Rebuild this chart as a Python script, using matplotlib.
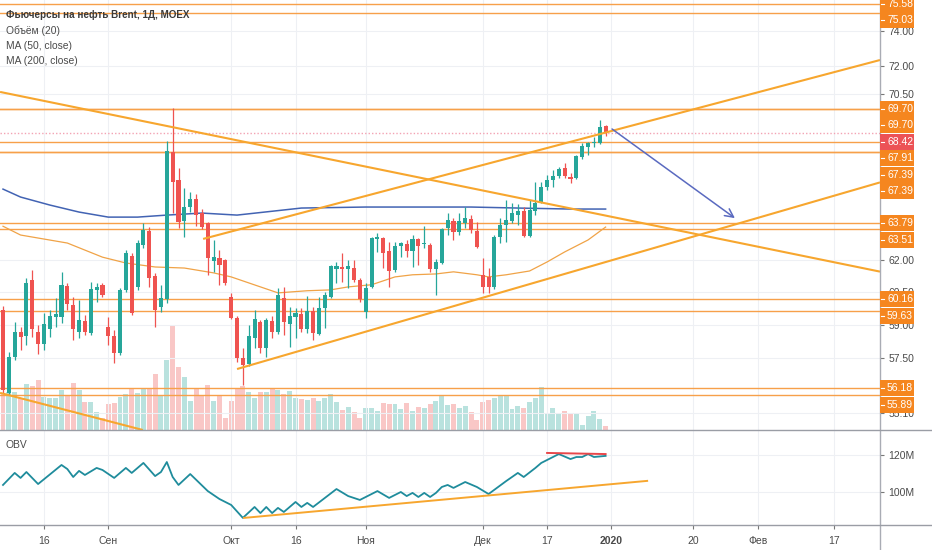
import matplotlib
matplotlib.use("Agg")
import matplotlib.pyplot as plt
from matplotlib.patches import Rectangle
from matplotlib.lines import Line2D
from matplotlib.ticker import NullLocator, NullFormatter

plt.rcParams["font.family"] = ["Liberation Sans", "DejaVu Sans"]

# daily candles, bar index 0 = 7 Aug 2019 ... 103 = 31 Dec 2019
opens = [59.67, 55.98, 57.55, 58.67, 58.49, 61.07, 58.67, 58.13, 58.80, 59.35,
         59.35, 60.79, 59.90, 58.67, 59.16, 58.62, 60.60, 60.84, 58.89, 58.49,
         57.73, 60.60, 62.20, 60.74, 62.73, 63.41, 61.26, 59.81, 60.18, 67.41,
         65.96, 63.90, 64.60, 65.00, 64.30, 63.80, 61.96, 62.11, 62.01, 60.27,
         59.30, 57.51, 57.24, 58.40, 59.12, 57.95, 59.16, 58.67, 60.23, 59.03,
         59.35, 59.48, 58.80, 59.62, 58.58, 59.76, 60.27, 61.59, 61.68, 61.59,
         61.63, 61.07, 59.58, 60.74, 63.02, 63.07, 62.44, 61.54, 62.68, 62.78,
         62.44, 63.02, 62.78, 62.73, 61.59, 61.87, 63.56, 63.90, 63.37, 63.80,
         64.00, 63.41, 61.30, 61.21, 60.74, 63.12, 63.70, 63.90, 64.20, 64.40,
         63.17, 64.40, 64.85, 65.60, 65.96, 66.16, 66.57, 66.11, 66.06, 67.15,
         67.67, 67.87, 67.87, 68.77]
highs = [59.85, 57.77, 59.12, 58.89, 61.16, 61.54, 58.98, 59.53, 59.67, 60.23,
         61.45, 60.93, 60.27, 60.13, 59.44, 60.98, 60.93, 60.93, 59.35, 58.76,
         60.70, 62.49, 62.34, 62.98, 63.80, 63.61, 61.40, 60.84, 67.98, 69.73,
         66.57, 65.55, 65.35, 65.25, 64.50, 63.85, 62.98, 62.49, 62.06, 60.46,
         59.39, 57.95, 58.98, 59.67, 59.21, 59.30, 59.39, 60.70, 60.74, 59.81,
         59.76, 59.76, 60.32, 59.81, 60.27, 60.51, 61.77, 61.92, 62.34, 62.01,
         62.01, 61.16, 60.93, 63.12, 63.31, 63.12, 62.88, 62.88, 62.88, 62.98,
         63.22, 63.07, 63.65, 62.83, 62.06, 63.56, 64.30, 64.05, 64.30, 64.60,
         64.20, 63.85, 62.11, 61.63, 63.22, 64.05, 64.95, 64.80, 64.75, 64.60,
         64.95, 65.86, 65.86, 66.21, 66.47, 66.62, 66.83, 66.32, 67.25, 67.87,
         67.93, 68.19, 69.09, 68.82]
lows = [55.98, 55.89, 57.42, 57.86, 58.08, 58.44, 57.68, 57.86, 58.44, 58.89,
        59.07, 59.67, 58.31, 58.40, 58.53, 58.53, 60.04, 60.27, 58.08, 57.29,
        57.64, 60.51, 59.44, 60.60, 62.59, 60.74, 58.89, 59.58, 59.99, 64.30,
        63.56, 63.12, 64.35, 63.65, 63.51, 61.30, 61.45, 60.84, 60.84, 59.26,
        57.33, 56.32, 57.16, 57.95, 57.73, 57.55, 58.40, 58.58, 58.53, 58.00,
        58.40, 58.67, 58.62, 58.31, 58.53, 58.85, 60.23, 60.93, 60.98, 60.70,
        60.98, 60.04, 59.30, 60.70, 62.40, 61.63, 60.74, 61.45, 62.15, 62.15,
        61.68, 61.77, 62.59, 61.45, 60.37, 61.82, 63.22, 62.98, 63.22, 63.56,
        63.31, 62.59, 60.46, 60.46, 60.65, 62.83, 62.88, 63.80, 63.70, 63.12,
        63.12, 64.20, 64.80, 65.45, 65.60, 66.06, 66.06, 65.81, 66.01, 67.04,
        67.25, 67.67, 67.82, 68.24]
closes = [56.11, 57.55, 58.67, 58.44, 60.93, 58.80, 58.13, 59.03, 59.39, 59.48,
          60.84, 59.95, 58.80, 59.21, 58.67, 60.65, 60.74, 60.37, 58.49, 57.73,
          60.60, 62.34, 59.53, 62.83, 63.46, 61.16, 59.67, 60.23, 67.46, 65.86,
          63.85, 64.60, 65.00, 64.20, 63.61, 62.11, 62.15, 61.77, 60.93, 59.30,
          57.51, 57.20, 58.49, 59.26, 57.95, 59.21, 58.67, 60.37, 59.12, 59.39,
          59.53, 58.80, 59.62, 58.62, 59.76, 60.37, 61.73, 61.73, 61.59, 61.73,
          61.07, 60.18, 60.70, 63.07, 63.12, 62.34, 61.49, 62.68, 62.83, 62.44,
          63.02, 62.68, 62.83, 61.59, 61.92, 63.51, 63.95, 63.37, 63.90, 64.05,
          63.46, 62.63, 60.74, 60.74, 63.12, 63.70, 63.95, 64.30, 64.40, 63.17,
          64.45, 64.80, 65.60, 65.96, 66.16, 66.52, 66.16, 66.01, 67.20, 67.72,
          67.87, 67.93, 68.72, 68.42]
# volume, thousand contracts (relative)
volumes = [37, 38, 38, 32, 46, 44, 50, 33, 32, 32,
           40, 34, 47, 40, 28, 28, 18, 12, 26, 27,
           33, 36, 41, 37, 41, 41, 56, 34, 70, 105,
           63, 53, 29, 41, 35, 45, 29, 34, 12, 29,
           41, 44, 38, 32, 38, 38, 41, 40, 36, 39,
           32, 31, 30, 32, 29, 32, 36, 28, 20, 23,
           18, 12, 22, 22, 19, 27, 26, 26, 21, 27,
           19, 23, 22, 26, 29, 35, 25, 26, 22, 24,
           18, 10, 28, 30, 32, 35, 35, 21, 24, 22,
           28, 32, 43, 16, 22, 16, 19, 17, 17, 5,
           14, 19, 11, 4]

ma50_idx = [0, 3, 11, 17, 21, 26, 31, 36, 39, 44, 47, 52, 56, 59, 63, 67, 70,
            74, 77, 81, 83, 86, 90, 93, 96, 100, 103]
ma50_vals = [63.65, 63.22, 62.83, 62.15, 61.87, 61.68, 61.63, 61.40, 61.21, 60.74,
             60.46, 60.56, 60.60, 60.74, 60.84, 61.21, 61.31, 61.35, 61.45, 61.31,
             61.21, 61.31, 61.49, 61.92, 62.40, 62.98, 63.61]
ma200_idx = [0, 3, 8, 13, 18, 23, 28, 34, 40, 51, 62, 71, 80, 88, 97, 103]
ma200_vals = [65.50, 65.10, 64.70, 64.35, 64.10, 64.10, 64.20, 64.30, 64.20, 64.55,
              64.60, 64.60, 64.60, 64.55, 64.50, 64.50]

obv_idx = [0, 2, 3, 4, 6, 10, 11, 12, 13, 14, 16, 17, 19, 21, 22, 24, 26, 27, 28,
           29, 30, 32, 35, 37, 39, 41, 43, 44, 45, 46, 47, 48, 50, 51, 52, 53, 57,
           59, 61, 64, 66, 68, 69, 70, 71, 72, 73, 74, 75, 76, 77, 79, 81, 83, 86,
           88, 89, 91, 92, 95, 97, 98, 99, 100, 101, 103]
obv_vals = [103.8, 110.3, 107.6, 110.8, 104.3, 114.6, 112.4, 108.1, 111.4, 109.2,
            113.0, 111.9, 107.6, 113.0, 110.3, 115.7, 108.6, 110.8, 116.2, 108.1,
            103.8, 109.7, 100.5, 96.2, 93.0, 86.0, 91.9, 88.6, 91.9, 88.6, 91.4,
            89.2, 94.6, 91.9, 94.1, 91.9, 101.6, 97.8, 95.7, 100.5, 96.8, 100.0,
            97.8, 99.5, 97.3, 99.5, 97.3, 99.5, 102.7, 103.8, 102.2, 105.4, 102.7,
            98.9, 105.9, 110.3, 108.1, 113.0, 115.7, 120.5, 117.8, 118.9, 118.9,
            120.5, 118.9, 119.5]

level_prices = [75.58, 75.03, 69.70, 69.70, 67.91, 67.39, 67.39, 63.79, 63.51,
                60.16, 59.63, 56.18, 55.89]
last_price = 68.42

# drawn trend lines: start index, start price, end index, end price
trend_x0 = [-0.5, 34.2, 40.0, -0.5]
trend_p0 = [70.60, 63.03, 57.01, 55.97]
trend_x1 = [149.9, 149.9, 149.9, 23.9]
trend_p1 = [61.46, 72.36, 65.84, 54.39]
arrow_from = (104.1, 68.61)
arrow_to = (125.1, 64.05)
obv_trend_x = [41.2, 110.1]
obv_trend_v = [86.0, 106.0]
obv_top_x = [93, 103]
obv_top_v = [121.1, 120.5]

price_ticks = [74.0, 72.0, 70.5, 62.0, 60.5, 59.0, 57.5, 55.1]
obv_ticks = [100, 120]
date_idx = [7, 18, 39, 50, 62, 82, 93, 104, 118, 129, 142]
date_lbl = ["16", "Сен", "Окт", "16", "Ноя", "Дек", "17", "2020", "20", "Фев", "17"]

UP = "#26a69a"
DOWN = "#ef5350"
ORANGE = "#f5861f"
LINE_OR = "#f7a04a"
TREND_OR = "#f7a62e"
GRID = "#eef0f4"
TXT = "#4a4a4a"

W, H = 932, 550


def rect(x0, y0, x1, y1):
    return [x0 / W, 1 - y1 / H, (x1 - x0) / W, (y1 - y0) / H]


fig = plt.figure(figsize=(W / 100, H / 100), dpi=100)
ax = fig.add_axes(rect(0, 0, 880, 430))
axo = fig.add_axes(rect(0, 430, 880, 525), sharex=ax)
axv = ax.twinx()
ax.set_zorder(axv.get_zorder() + 1)
ax.patch.set_visible(False)

ax.set_xlim(-0.513, 149.9)
ax.set_yscale("log")
ax.set_ylim(54.39, 75.79)
axv.set_ylim(0, 430)
axo.set_ylim(82.16, 133.5)

# volume
for i, v in enumerate(volumes):
    c = UP if closes[i] >= opens[i] else DOWN
    axv.bar(i, v, width=0.85, color=c, alpha=0.32, linewidth=0)
axv.set_yticks([])
for s in axv.spines.values():
    s.set_visible(False)

# candles
for i in range(len(opens)):
    o, h, l, c = opens[i], highs[i], lows[i], closes[i]
    col = UP if c >= o else DOWN
    ax.vlines(i, l, h, color=col, lw=0.9, zorder=5)
    lo = min(o, c)
    hgt = max(abs(c - o), 0.04)
    ax.bar(i, hgt, bottom=lo, width=0.7, color=col, linewidth=0, zorder=6)

ax.plot(ma50_idx, ma50_vals, color="#f0a347", lw=0.9, zorder=4)
ax.plot(ma200_idx, ma200_vals, color="#4263b3", lw=1.1, zorder=4)

for p in level_prices:
    ax.axhline(p, color=LINE_OR, lw=1.0, zorder=3)
ax.axhline(last_price, color="#f3a3b3", lw=1.0, ls=(0, (1, 1.5)), zorder=3)

for k in range(len(trend_x0)):
    ax.plot([trend_x0[k], trend_x1[k]], [trend_p0[k], trend_p1[k]],
            color=TREND_OR, lw=1.5, zorder=7, solid_capstyle="butt")
ax.annotate("", xy=arrow_to, xytext=arrow_from, zorder=8,
            arrowprops=dict(arrowstyle="->,head_length=0.6,head_width=0.3",
                            color="#5a6ac0", lw=1.1, shrinkA=0, shrinkB=0))

# price axis
ax.yaxis.tick_right()
ax.set_yticks(price_ticks)
ax.set_yticklabels([f"{p:.2f}" for p in price_ticks])
ax.yaxis.set_minor_locator(NullLocator())
ax.yaxis.set_minor_formatter(NullFormatter())
ax.tick_params(axis="y", direction="out", length=3, width=0.8, color="#777777",
               labelsize=7.5, labelcolor=TXT, pad=3)
ax.tick_params(axis="x", bottom=False, labelbottom=False)
ax.set_xticks(date_idx)
ax.grid(True, color=GRID, lw=0.8)
ax.set_axisbelow(True)
for s in ax.spines.values():
    s.set_visible(False)

# OBV
axo.plot(obv_idx, obv_vals, color="#1f8c9c", lw=1.3, zorder=4)
axo.plot(obv_trend_x, obv_trend_v, color=TREND_OR, lw=1.4, zorder=5)
axo.plot(obv_top_x, obv_top_v, color="#e8474a", lw=1.4, zorder=5)
axo.yaxis.tick_right()
axo.set_yticks(obv_ticks)
axo.set_yticklabels([f"{v}M" for v in obv_ticks])
axo.tick_params(axis="y", direction="out", length=3, width=0.8, color="#777777",
                labelsize=7.5, labelcolor=TXT, pad=3)
axo.set_xticks(date_idx)
axo.set_xticklabels(date_lbl)
axo.tick_params(axis="x", direction="out", length=3, width=0.8, color="#777777",
                labelsize=7.5, labelcolor=TXT, pad=5)
for t in axo.get_xticklabels():
    if t.get_text() == "2020":
        t.set_fontweight("bold")
axo.grid(True, color=GRID, lw=0.8)
axo.set_axisbelow(True)
for s in axo.spines.values():
    s.set_visible(False)

# panel separators and price scale border
fig.add_artist(Line2D([880 / W, 880 / W], [0, 1], color="#a9acb4", lw=1.0))
for yy in (430, 525):
    fig.add_artist(Line2D([0, 1], [1 - yy / H, 1 - yy / H], color="#9a9da5", lw=1.0))

# legend texts
fig.text(6 / W, 1 - 15 / H, "Фьючерсы на нефть Brent, 1Д, MOEX", fontsize=7.1,
         fontweight="bold", color="#3a3a3a", va="center")
for yy, s in ((31, "Объём (20)"), (46, "MA (50, close)"), (61, "MA (200, close)")):
    fig.text(6 / W, 1 - yy / H, s, fontsize=7.4, color=TXT, va="center")
fig.text(6 / W, 1 - 445 / H, "OBV", fontsize=7.4, color=TXT, va="center")

# price labels on the scale, stacked so they do not overlap
tags = [(p, ORANGE) for p in level_prices] + [(last_price, "#ec5256")]
pos = []
for p, col in tags:
    ypx = H - ax.transData.transform((0, p))[1]
    pos.append([ypx, p, col])
pos.sort(key=lambda r: r[0])
for k in range(1, len(pos)):
    pos[k][0] = max(pos[k][0], pos[k - 1][0] + 16.5)
for ypx, p, col in pos:
    fig.add_artist(Rectangle((880 / W, 1 - (ypx + 8) / H), 34 / W, 16 / H,
                             transform=fig.transFigure, facecolor=col,
                             edgecolor="none", zorder=10))
    fig.add_artist(Line2D([881 / W, 884 / W], [1 - ypx / H, 1 - ypx / H],
                          color="white", lw=0.8, zorder=11))
    fig.text(887 / W, 1 - ypx / H, f"{p:.2f}", fontsize=7.5, color="white",
             va="center", ha="left", zorder=12)

fig.savefig("out.png", dpi=100, facecolor="white")
